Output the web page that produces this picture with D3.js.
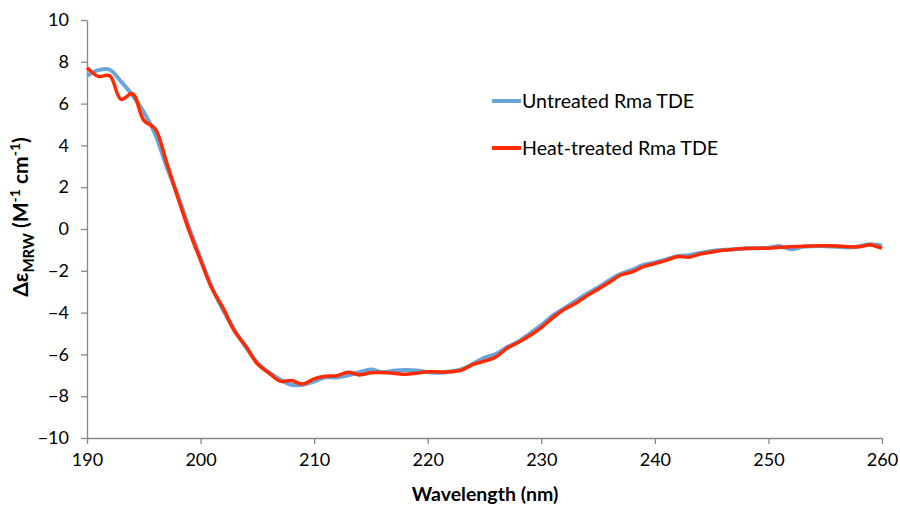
<!DOCTYPE html>
<html>
<head>
<meta charset="UTF-8">
<title>CD spectrum</title>
<style>
  body { margin: 0; background: #fff; }
  svg text { font-family: Lato, "Open Sans", sans-serif; fill: #000; }
  .axis path, .axis line { stroke: #898989; stroke-width: 1.3; }
</style>
</head>
<body>
<svg id="chart" width="900" height="508"></svg>
<script src="https://cdnjs.cloudflare.com/ajax/libs/d3/7.8.5/d3.min.js"></script>
<script>
// wavelength (nm)
const wavelength = [190,191,192,193,194,195,196,197,198,199,200,201,202,203,204,205,206,207,208,209,
  210,211,212,213,214,215,216,217,218,219,220,221,222,223,224,225,226,227,228,229,
  230,231,232,233,234,235,236,237,238,239,240,241,242,243,244,245,246,247,248,249,
  250,251,252,253,254,255,256,257,258,259,260];

const untreated = [7.33,7.6,7.62,7.05,6.4,5.6,4.55,3.0,1.6,0.05,-1.4,-2.8,-3.9,-4.85,-5.65,-6.4,-6.85,-7.2,-7.45,-7.45,
  -7.3,-7.1,-7.1,-7.0,-6.85,-6.72,-6.85,-6.78,-6.75,-6.77,-6.85,-6.88,-6.82,-6.7,-6.45,-6.15,-5.98,-5.65,-5.38,-5.0,
  -4.6,-4.15,-3.8,-3.45,-3.1,-2.8,-2.45,-2.15,-1.95,-1.72,-1.6,-1.45,-1.3,-1.25,-1.15,-1.05,-1.0,-0.97,-0.92,-0.92,
  -0.9,-0.82,-0.97,-0.85,-0.82,-0.82,-0.85,-0.88,-0.82,-0.73,-0.8];

const heated = [7.72,7.3,7.33,6.2,6.48,5.2,4.8,3.2,1.5,-0.1,-1.5,-2.85,-3.8,-4.9,-5.62,-6.45,-6.88,-7.28,-7.25,-7.42,
  -7.17,-7.05,-7.02,-6.85,-6.98,-6.88,-6.87,-6.9,-6.95,-6.9,-6.83,-6.84,-6.83,-6.75,-6.48,-6.32,-6.12,-5.7,-5.42,-5.1,
  -4.72,-4.25,-3.85,-3.57,-3.2,-2.88,-2.55,-2.2,-2.05,-1.8,-1.65,-1.5,-1.32,-1.35,-1.2,-1.1,-1.02,-0.97,-0.93,-0.92,
  -0.92,-0.87,-0.85,-0.82,-0.81,-0.8,-0.81,-0.85,-0.85,-0.76,-0.92];

const xTicks = [190,200,210,220,230,240,250,260];
const yTicks = [-10,-8,-6,-4,-2,0,2,4,6,8,10];

const seriesNames = ["Untreated Rma TDE", "Heat-treated Rma TDE"];
const seriesColors = ["#6aa5da", "#ff2a00"];

const svg = d3.select("#chart");

const x = d3.scaleLinear().domain([190, 260]).range([87, 882]);
const y = d3.scaleLinear().domain([-10, 10]).range([438, 20]);

// axes
svg.append("g")
    .attr("class", "axis")
    .attr("transform", "translate(0,438)")
    .call(d3.axisBottom(x).tickValues(xTicks).tickSize(6).tickPadding(9).tickSizeOuter(0))
    .call(g => g.selectAll("text").style("font-size", "18px"));

svg.append("g")
    .attr("class", "axis")
    .attr("transform", "translate(87,0)")
    .call(d3.axisLeft(y).tickValues(yTicks).tickSize(6).tickPadding(12).tickSizeOuter(0))
    .call(g => g.selectAll("text").style("font-size", "18px"));

// lines
const line = d3.line()
    .x((d, i) => x(wavelength[i]))
    .y(d => y(d))
    .curve(d3.curveCatmullRom.alpha(0.5));

svg.append("path")
    .datum(untreated)
    .attr("fill", "none")
    .attr("stroke", seriesColors[0])
    .attr("stroke-width", 4)
    .attr("d", line);

svg.append("path")
    .datum(heated)
    .attr("fill", "none")
    .attr("stroke", seriesColors[1])
    .attr("stroke-width", 3.5)
    .attr("d", line);

// legend
const legend = svg.append("g").attr("transform", "translate(492,101)");
seriesNames.forEach((name, i) => {
    const g = legend.append("g").attr("transform", `translate(0,${i * 47})`);
    g.append("line")
        .attr("x1", 0).attr("x2", 29)
        .attr("stroke", seriesColors[i])
        .attr("stroke-width", 4);
    g.append("text")
        .attr("x", 30).attr("dy", "0.35em")
        .style("font-size", "19.6px")
        .text(name);
});

// axis titles
svg.append("text")
    .attr("x", 485).attr("y", 501)
    .attr("text-anchor", "middle")
    .style("font-size", "19.5px")
    .style("font-weight", "bold")
    .text("Wavelength (nm)");

const yt = svg.append("text")
    .attr("transform", "translate(28,217) rotate(-90)")
    .attr("text-anchor", "middle")
    .style("font-size", "21px")
    .style("font-weight", "bold");
yt.append("tspan").text("Δε");
yt.append("tspan").attr("dy", 6).style("font-size", "15px").text("MRW");
yt.append("tspan").attr("dy", -6).text(" (M");
yt.append("tspan").attr("dy", -8).style("font-size", "14px").text("-1");
yt.append("tspan").attr("dy", 8).text(" cm");
yt.append("tspan").attr("dy", -8).style("font-size", "14px").text("-1");
yt.append("tspan").attr("dy", 8).text(")");
</script>
</body>
</html>
